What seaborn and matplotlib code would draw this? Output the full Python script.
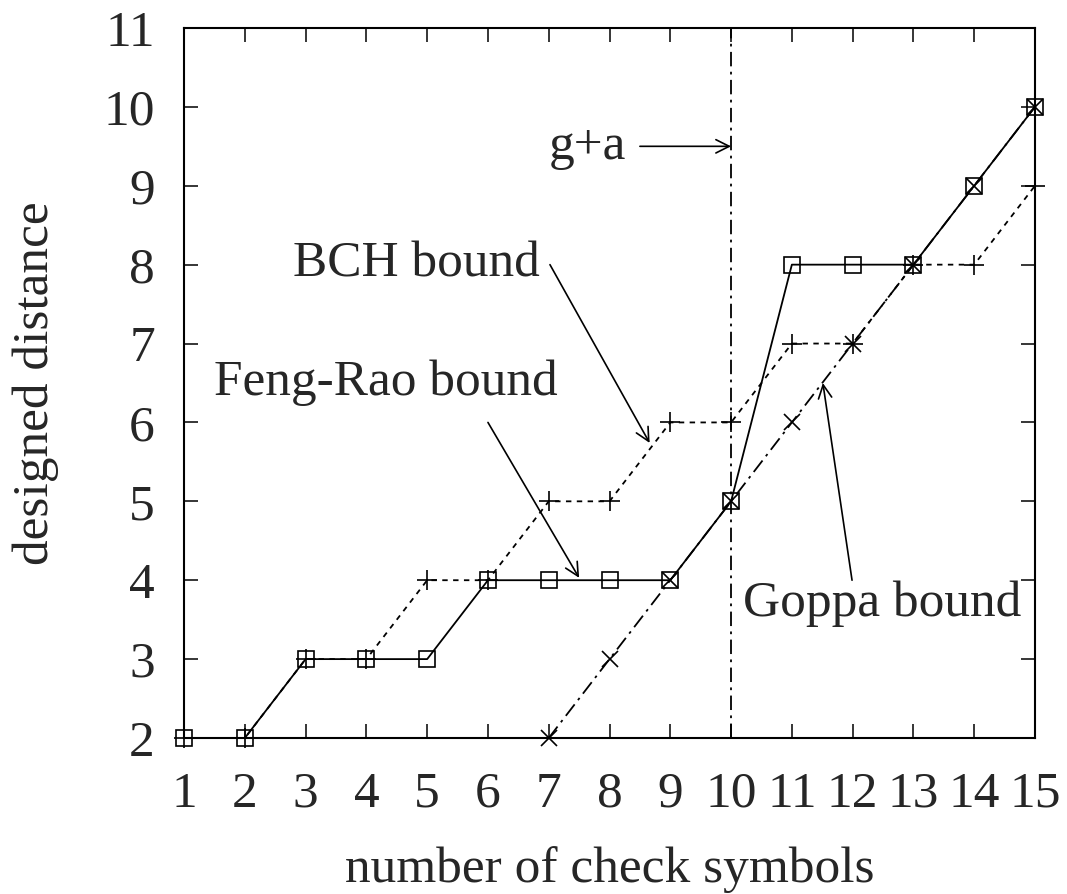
import matplotlib
matplotlib.use("Agg")
import matplotlib.pyplot as plt
import seaborn as sns
import pandas as pd

# Number of check symbols and designed distances for each bound
check_symbols = list(range(1, 16))
feng_rao = [2, 2, 3, 3, 3, 4, 4, 4, 4, 5, 8, 8, 8, 9, 10]
bch = [2, 2, 3, 3, 4, 4, 5, 5, 6, 6, 7, 7, 8, 8, 9]
goppa_x = list(range(7, 16))
goppa = [2, 3, 4, 5, 6, 7, 8, 9, 10]
g_plus_a = 10

x_ticks = list(range(1, 16))
y_ticks = list(range(2, 12))

sns.set_style("ticks")
plt.rcParams["font.family"] = ["Liberation Serif", "DejaVu Serif"]

fs = 37
fig = plt.figure(figsize=(10.67, 8.94), dpi=100)
ax = fig.add_axes([0.1725, 0.1745, 0.7975, 0.7942])

df_fr = pd.DataFrame({"x": check_symbols, "y": feng_rao})
df_bch = pd.DataFrame({"x": check_symbols, "y": bch})
df_gp = pd.DataFrame({"x": goppa_x, "y": goppa})

dashdot = (0, (8, 3, 1.5, 3))
sns.lineplot(data=df_fr, x="x", y="y", ax=ax, color="black", lw=1.3,
             marker="s", markersize=11, markerfacecolor="none",
             markeredgecolor="black", markeredgewidth=1.2, clip_on=False)
sns.lineplot(data=df_bch, x="x", y="y", ax=ax, color="black", lw=1.3,
             linestyle=(0, (3, 3)), marker="+", markersize=14,
             markeredgecolor="black", markeredgewidth=1.2, clip_on=False)
sns.lineplot(data=df_gp, x="x", y="y", ax=ax, color="black", lw=1.3,
             linestyle=dashdot, marker="x", markersize=12,
             markeredgecolor="black", markeredgewidth=1.2, clip_on=False)

ax.axvline(g_plus_a, color="black", lw=1.3, linestyle=dashdot)

ax.set_xlim(1, 15)
ax.set_ylim(2, 11)
ax.set_xticks(x_ticks)
ax.set_yticks(y_ticks)
ax.tick_params(direction="in", length=10, width=1.3, labelsize=fs,
               top=True, right=True)
ax.tick_params(axis="x", pad=24)
ax.tick_params(axis="y", pad=21)
for s in ax.spines.values():
    s.set_linewidth(1.5)
    s.set_color("black")

ax.set_xlabel("number of check symbols", fontsize=fs, labelpad=20)
ax.set_ylabel("designed distance", fontsize=fs, labelpad=32)

arrow = dict(arrowstyle="->", color="black", lw=1.2, mutation_scale=24,
             shrinkA=0, shrinkB=0)

# Curve labels and pointer arrows
ax.text(7.63, 9.5, "g+a", fontsize=fs, ha="center", va="center")
ax.annotate("", xy=(10, 9.5), xytext=(8.5, 9.5), arrowprops=arrow)

ax.text(4.83, 8.0, "BCH bound", fontsize=fs, ha="center", va="center")
ax.annotate("", xy=(8.66, 5.74), xytext=(7.02, 8.0), arrowprops=arrow)

ax.text(4.32, 6.5, "Feng-Rao bound", fontsize=fs, ha="center", va="center")
ax.annotate("", xy=(7.5, 4.03), xytext=(6.0, 6.0), arrowprops=arrow)

ax.text(12.48, 3.7, "Goppa bound", fontsize=fs, ha="center", va="center")
ax.annotate("", xy=(11.51, 6.5), xytext=(11.99, 4.0), arrowprops=arrow)

fig.savefig("out.png", dpi=100, facecolor="white")
